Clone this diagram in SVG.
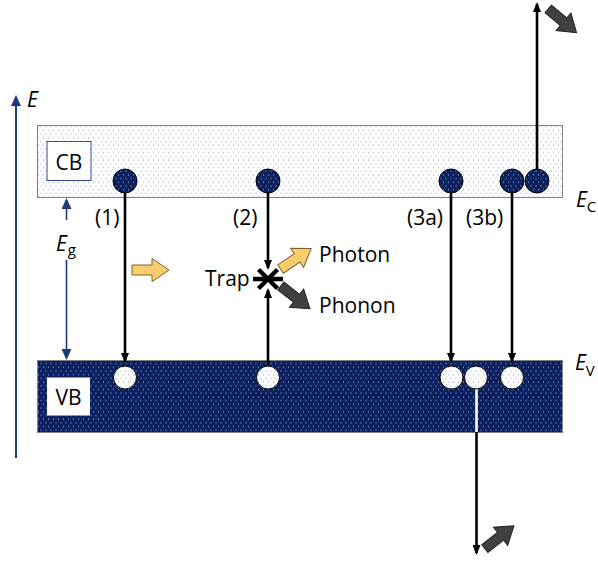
<svg xmlns="http://www.w3.org/2000/svg" width="598" height="561" viewBox="0 0 598 561">
  <style>
    text { font-family: "Open Sans", "Noto Sans", "Liberation Sans", sans-serif; fill: #000; }
    .lbl { font-size: 21px; }
    .sym { font-size: 21px; font-style: italic; }
    .sub { font-size: 15px; font-style: normal; }
    .tr { stroke: #000; stroke-width: 2.6; fill: none; }
    .blue { stroke: #1f3a78; fill: none; }
    .elec { fill: url(#navyDots); stroke: #000; stroke-width: 1; }
    .hole { fill: url(#lightDots); stroke: #000; stroke-width: 1; }
    .photon { fill: #f9cd6b; stroke: #7a6230; stroke-width: 1; }
    .phonon { fill: #404040; stroke: #222; stroke-width: 1; }
  </style>
  <defs>
    <!-- light band fill: sparse navy dots on white -->
    <pattern id="lightDots" width="5" height="7.4" patternUnits="userSpaceOnUse">
      <rect width="5" height="7.4" fill="#fff"/>
      <rect x="0.5" y="0.5" width="1" height="1" fill="#2a3f85" opacity="0.55"/>
      <rect x="3" y="4.2" width="1" height="1" fill="#2a3f85" opacity="0.55"/>
    </pattern>
    <!-- dark band fill: white dots on navy -->
    <pattern id="navyDots" width="5" height="7.4" patternUnits="userSpaceOnUse">
      <rect width="5" height="7.4" fill="#0b2060"/>
      <rect x="0.5" y="0.5" width="1" height="1" fill="#fff" opacity="0.7"/>
      <rect x="3" y="4.2" width="1" height="1" fill="#fff" opacity="0.7"/>
    </pattern>
    <marker id="ah" viewBox="0 0 10 8" refX="8" refY="4" markerWidth="10" markerHeight="8" markerUnits="userSpaceOnUse" orient="auto">
      <path d="M0,0 L10,4 L0,8 Z" fill="#000"/>
    </marker>
    <marker id="ahBlue" viewBox="0 0 11 10" refX="9" refY="5" markerWidth="11" markerHeight="10" markerUnits="userSpaceOnUse" orient="auto">
      <path d="M0,0 L11,5 L0,10 Z" fill="#1f3a78"/>
    </marker>
    <path id="blockArrow" d="M-18,-5 L2,-5 L2,-11.5 L19,0 L2,11.5 L2,5 L-18,5 Z"/>
  </defs>

  <!-- energy bands -->
  <g id="conduction-band">
    <rect x="37.5" y="125.5" width="525" height="72" fill="url(#lightDots)" stroke="#808080" stroke-width="1"/>
    <rect x="47" y="141.5" width="44" height="39" fill="#fff" stroke="#2f4f8f" stroke-width="1"/>
    <text class="lbl" x="69" y="170" text-anchor="middle">CB</text>
  </g>
  <g id="valence-band">
    <rect x="37.5" y="360.5" width="525" height="72" fill="url(#navyDots)" stroke="#808080" stroke-width="1"/>
    <rect x="47" y="377.5" width="43" height="38" fill="#fff"/>
    <text class="lbl" x="68.5" y="405" text-anchor="middle">VB</text>
  </g>

  <!-- energy axis and band gap -->
  <g id="energy-axis">
    <line class="blue" x1="16" y1="458" x2="16" y2="97" stroke-width="2" marker-end="url(#ahBlue)"/>
    <text class="sym" x="27" y="107" font-size="20">E</text>
  </g>
  <g id="band-gap">
    <line class="blue" x1="66.5" y1="220" x2="66.5" y2="200" stroke-width="1.6" marker-end="url(#ahBlue)"/>
    <line class="blue" x1="66.5" y1="260" x2="66.5" y2="358" stroke-width="1.6" marker-end="url(#ahBlue)"/>
    <text class="sym" x="56" y="251">E<tspan class="sub" dx="1" dy="4">g</tspan></text>
  </g>
  <g id="level-labels">
    <text class="sym" x="576" y="207">E<tspan class="sub" dx="0" dy="5">C</tspan></text>
    <text class="sym" x="575" y="370">E<tspan class="sub" dx="0" dy="6">V</tspan></text>
  </g>

  <!-- transitions -->
  <g id="connectors">
    <line class="tr" x1="125" y1="193" x2="125" y2="361" marker-end="url(#ah)"/>
    <line class="tr" x1="268" y1="193" x2="268" y2="268" marker-end="url(#ah)"/>
    <line class="tr" x1="268" y1="365" x2="268" y2="290" marker-end="url(#ah)"/>
    <line class="tr" x1="451" y1="193" x2="451" y2="361" marker-end="url(#ah)"/>
    <line class="tr" x1="512" y1="193" x2="512" y2="361" marker-end="url(#ah)"/>
    <line class="tr" x1="537" y1="169" x2="537" y2="4" marker-end="url(#ah)"/>
    <line x1="476.5" y1="389" x2="476.5" y2="432" stroke="#fff" stroke-width="2.6"/>
    <line class="tr" x1="476.5" y1="432" x2="476.5" y2="553" marker-end="url(#ah)"/>
  </g>

  <!-- carriers -->
  <g id="electrons">
    <circle class="elec" cx="125" cy="181" r="12"/>
    <circle class="elec" cx="268" cy="181" r="12"/>
    <circle class="elec" cx="451" cy="181" r="12"/>
    <circle class="elec" cx="512" cy="181" r="12"/>
    <circle class="elec" cx="537" cy="181" r="12"/>
  </g>
  <g id="holes">
    <circle class="hole" cx="125" cy="377.5" r="11.5"/>
    <circle class="hole" cx="268" cy="377.5" r="11.5"/>
    <circle class="hole" cx="451.5" cy="377.5" r="11.5"/>
    <circle class="hole" cx="476" cy="377.5" r="11.5"/>
    <circle class="hole" cx="512" cy="377.5" r="11.5"/>
  </g>

  <!-- trap level -->
  <g id="trap">
    <g stroke="#000" stroke-width="4.5" stroke-linecap="butt">
      <line x1="253" y1="279" x2="283" y2="279"/>
      <line x1="258.5" y1="269.5" x2="277.5" y2="288.5"/>
      <line x1="277.5" y1="269.5" x2="258.5" y2="288.5"/>
    </g>
    <text class="lbl" x="205" y="286">Trap</text>
  </g>

  <!-- emitted energy -->
  <g id="photon-arrows">
    <use href="#blockArrow" class="photon" transform="translate(150,270)"/>
    <use href="#blockArrow" class="photon" transform="translate(295.5,259) rotate(-34)"/>
  </g>
  <g id="phonon-arrows">
    <use href="#blockArrow" class="phonon" transform="translate(295,297) rotate(38)"/>
    <use href="#blockArrow" class="phonon" transform="translate(562,20.5) rotate(40)"/>
    <use href="#blockArrow" class="phonon" transform="translate(499,537.5) rotate(-38)"/>
  </g>

  <g id="labels">
    <text class="lbl" x="95" y="225">(1)</text>
    <text class="lbl" x="233" y="225">(2)</text>
    <text class="lbl" x="407" y="225">(3a)</text>
    <text class="lbl" x="466" y="225">(3b)</text>
    <text class="lbl" x="319" y="262">Photon</text>
    <text class="lbl" x="319" y="313">Phonon</text>
  </g>
</svg>
